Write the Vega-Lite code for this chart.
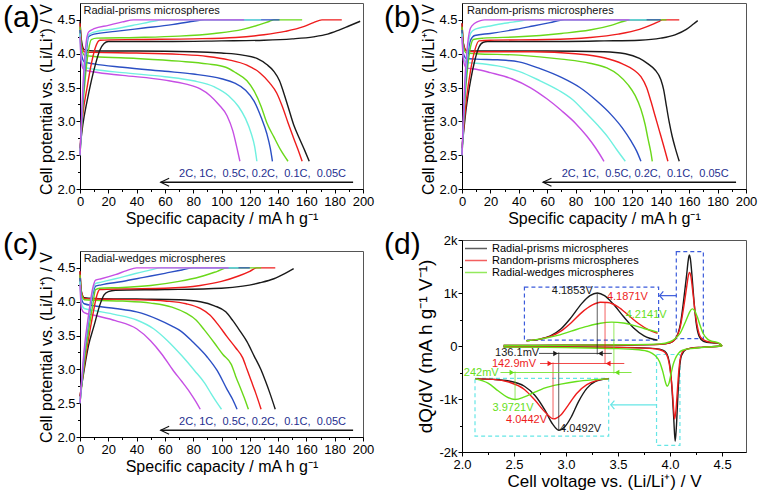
{
"$schema":"https://vega.github.io/schema/vega-lite/v6.json",
"padding":{"left":2,"top":2,"right":0,"bottom":0},
"spacing":8,
"datasets":{
"A":[
{"r":"0.05C","s":"d","x":0,"y":4.48},{"r":"0.05C","s":"d","x":1,"y":4.2},{"r":"0.05C","s":"d","x":3,"y":4.06},{"r":"0.05C","s":"d","x":10,"y":4.04},{"r":"0.05C","s":"d","x":40,"y":4.04},{"r":"0.05C","s":"d","x":80,"y":4.03},{"r":"0.05C","s":"d","x":100,"y":4.01},{"r":"0.05C","s":"d","x":115,"y":3.98},{"r":"0.05C","s":"d","x":125,"y":3.93},{"r":"0.05C","s":"d","x":132,"y":3.84},{"r":"0.05C","s":"d","x":137,"y":3.74},{"r":"0.05C","s":"d","x":141,"y":3.6},{"r":"0.05C","s":"d","x":144,"y":3.42},{"r":"0.05C","s":"d","x":147,"y":3.22},{"r":"0.05C","s":"d","x":151,"y":2.95},{"r":"0.05C","s":"d","x":155,"y":2.75},{"r":"0.05C","s":"d","x":159,"y":2.56},{"r":"0.05C","s":"d","x":162,"y":2.41},
{"r":"0.1C","s":"d","x":0,"y":4.45},{"r":"0.1C","s":"d","x":1,"y":4.15},{"r":"0.1C","s":"d","x":3,"y":4.03},{"r":"0.1C","s":"d","x":10,"y":4.02},{"r":"0.1C","s":"d","x":40,"y":4.01},{"r":"0.1C","s":"d","x":70,"y":3.99},{"r":"0.1C","s":"d","x":90,"y":3.96},{"r":"0.1C","s":"d","x":105,"y":3.91},{"r":"0.1C","s":"d","x":118,"y":3.83},{"r":"0.1C","s":"d","x":127,"y":3.72},{"r":"0.1C","s":"d","x":134,"y":3.57},{"r":"0.1C","s":"d","x":139,"y":3.42},{"r":"0.1C","s":"d","x":143,"y":3.22},{"r":"0.1C","s":"d","x":147,"y":2.98},{"r":"0.1C","s":"d","x":151,"y":2.75},{"r":"0.1C","s":"d","x":155,"y":2.53},{"r":"0.1C","s":"d","x":157,"y":2.41},
{"r":"0.2C","s":"d","x":0,"y":4.4},{"r":"0.2C","s":"d","x":1,"y":4.1},{"r":"0.2C","s":"d","x":3,"y":3.98},{"r":"0.2C","s":"d","x":10,"y":3.96},{"r":"0.2C","s":"d","x":40,"y":3.93},{"r":"0.2C","s":"d","x":70,"y":3.89},{"r":"0.2C","s":"d","x":90,"y":3.85},{"r":"0.2C","s":"d","x":103,"y":3.8},{"r":"0.2C","s":"d","x":110,"y":3.72},{"r":"0.2C","s":"d","x":118,"y":3.6},{"r":"0.2C","s":"d","x":123,"y":3.45},{"r":"0.2C","s":"d","x":128,"y":3.22},{"r":"0.2C","s":"d","x":132,"y":2.98},{"r":"0.2C","s":"d","x":137,"y":2.77},{"r":"0.2C","s":"d","x":142,"y":2.57},{"r":"0.2C","s":"d","x":147,"y":2.41},
{"r":"0.5C","s":"d","x":0,"y":4.35},{"r":"0.5C","s":"d","x":1,"y":4.0},{"r":"0.5C","s":"d","x":3,"y":3.88},{"r":"0.5C","s":"d","x":10,"y":3.85},{"r":"0.5C","s":"d","x":30,"y":3.8},{"r":"0.5C","s":"d","x":60,"y":3.74},{"r":"0.5C","s":"d","x":80,"y":3.7},{"r":"0.5C","s":"d","x":100,"y":3.63},{"r":"0.5C","s":"d","x":109,"y":3.57},{"r":"0.5C","s":"d","x":117,"y":3.46},{"r":"0.5C","s":"d","x":123,"y":3.3},{"r":"0.5C","s":"d","x":128,"y":3.06},{"r":"0.5C","s":"d","x":132,"y":2.82},{"r":"0.5C","s":"d","x":134.5,"y":2.6},{"r":"0.5C","s":"d","x":136,"y":2.41},
{"r":"1C","s":"d","x":0,"y":4.3},{"r":"1C","s":"d","x":1,"y":3.9},{"r":"1C","s":"d","x":3,"y":3.8},{"r":"1C","s":"d","x":10,"y":3.77},{"r":"1C","s":"d","x":30,"y":3.72},{"r":"1C","s":"d","x":60,"y":3.66},{"r":"1C","s":"d","x":80,"y":3.6},{"r":"1C","s":"d","x":95,"y":3.51},{"r":"1C","s":"d","x":105,"y":3.38},{"r":"1C","s":"d","x":112,"y":3.22},{"r":"1C","s":"d","x":117,"y":3.04},{"r":"1C","s":"d","x":121,"y":2.82},{"r":"1C","s":"d","x":123.5,"y":2.62},{"r":"1C","s":"d","x":125,"y":2.41},
{"r":"2C","s":"d","x":0,"y":4.25},{"r":"2C","s":"d","x":1,"y":3.85},{"r":"2C","s":"d","x":3,"y":3.76},{"r":"2C","s":"d","x":10,"y":3.73},{"r":"2C","s":"d","x":30,"y":3.68},{"r":"2C","s":"d","x":60,"y":3.61},{"r":"2C","s":"d","x":75,"y":3.55},{"r":"2C","s":"d","x":85,"y":3.48},{"r":"2C","s":"d","x":92,"y":3.38},{"r":"2C","s":"d","x":98,"y":3.25},{"r":"2C","s":"d","x":104,"y":3.08},{"r":"2C","s":"d","x":108,"y":2.86},{"r":"2C","s":"d","x":111,"y":2.6},{"r":"2C","s":"d","x":113,"y":2.41},
{"r":"0.05C","s":"c","x":0,"y":2.6},{"r":"0.05C","s":"c","x":2,"y":2.95},{"r":"0.05C","s":"c","x":5,"y":3.3},{"r":"0.05C","s":"c","x":8,"y":3.6},{"r":"0.05C","s":"c","x":11,"y":3.85},{"r":"0.05C","s":"c","x":14,"y":4.05},{"r":"0.05C","s":"c","x":17,"y":4.15},{"r":"0.05C","s":"c","x":20,"y":4.18},{"r":"0.05C","s":"c","x":60,"y":4.18},{"r":"0.05C","s":"c","x":100,"y":4.19},{"r":"0.05C","s":"c","x":130,"y":4.2},{"r":"0.05C","s":"c","x":150,"y":4.22},{"r":"0.05C","s":"c","x":165,"y":4.25},{"r":"0.05C","s":"c","x":175,"y":4.29},{"r":"0.05C","s":"c","x":183,"y":4.35},{"r":"0.05C","s":"c","x":190,"y":4.41},{"r":"0.05C","s":"c","x":198,"y":4.48},
{"r":"0.1C","s":"c","x":0,"y":2.6},{"r":"0.1C","s":"c","x":2,"y":3.1},{"r":"0.1C","s":"c","x":5,"y":3.5},{"r":"0.1C","s":"c","x":8,"y":3.85},{"r":"0.1C","s":"c","x":11,"y":4.1},{"r":"0.1C","s":"c","x":14,"y":4.2},{"r":"0.1C","s":"c","x":40,"y":4.21},{"r":"0.1C","s":"c","x":80,"y":4.22},{"r":"0.1C","s":"c","x":110,"y":4.24},{"r":"0.1C","s":"c","x":130,"y":4.28},{"r":"0.1C","s":"c","x":145,"y":4.33},{"r":"0.1C","s":"c","x":158,"y":4.4},{"r":"0.1C","s":"c","x":165,"y":4.46},{"r":"0.1C","s":"c","x":171,"y":4.5},{"r":"0.1C","s":"c","x":185,"y":4.5},
{"r":"0.2C","s":"c","x":0,"y":2.5},{"r":"0.2C","s":"c","x":2,"y":3.2},{"r":"0.2C","s":"c","x":4,"y":3.7},{"r":"0.2C","s":"c","x":6,"y":4.05},{"r":"0.2C","s":"c","x":8,"y":4.21},{"r":"0.2C","s":"c","x":12,"y":4.23},{"r":"0.2C","s":"c","x":40,"y":4.24},{"r":"0.2C","s":"c","x":70,"y":4.26},{"r":"0.2C","s":"c","x":95,"y":4.3},{"r":"0.2C","s":"c","x":115,"y":4.36},{"r":"0.2C","s":"c","x":127,"y":4.43},{"r":"0.2C","s":"c","x":134,"y":4.48},{"r":"0.2C","s":"c","x":137,"y":4.5},{"r":"0.2C","s":"c","x":157,"y":4.5},
{"r":"0.5C","s":"c","x":0,"y":2.5},{"r":"0.5C","s":"c","x":2,"y":3.3},{"r":"0.5C","s":"c","x":4,"y":3.9},{"r":"0.5C","s":"c","x":6,"y":4.25},{"r":"0.5C","s":"c","x":10,"y":4.29},{"r":"0.5C","s":"c","x":25,"y":4.33},{"r":"0.5C","s":"c","x":45,"y":4.38},{"r":"0.5C","s":"c","x":65,"y":4.43},{"r":"0.5C","s":"c","x":80,"y":4.48},{"r":"0.5C","s":"c","x":88,"y":4.5},{"r":"0.5C","s":"c","x":141,"y":4.5},
{"r":"1C","s":"c","x":0,"y":2.5},{"r":"1C","s":"c","x":2,"y":3.4},{"r":"1C","s":"c","x":4,"y":4.0},{"r":"1C","s":"c","x":6,"y":4.28},{"r":"1C","s":"c","x":10,"y":4.32},{"r":"1C","s":"c","x":25,"y":4.37},{"r":"1C","s":"c","x":40,"y":4.43},{"r":"1C","s":"c","x":52,"y":4.48},{"r":"1C","s":"c","x":58,"y":4.5},{"r":"1C","s":"c","x":128,"y":4.5},
{"r":"2C","s":"c","x":0,"y":2.5},{"r":"2C","s":"c","x":2,"y":3.5},{"r":"2C","s":"c","x":4,"y":4.1},{"r":"2C","s":"c","x":6,"y":4.32},{"r":"2C","s":"c","x":10,"y":4.37},{"r":"2C","s":"c","x":20,"y":4.42},{"r":"2C","s":"c","x":30,"y":4.47},{"r":"2C","s":"c","x":38,"y":4.5},{"r":"2C","s":"c","x":116,"y":4.5}
],
"B":[
{"r":"0.05C","s":"d","x":0,"y":4.45},{"r":"0.05C","s":"d","x":1,"y":4.15},{"r":"0.05C","s":"d","x":3,"y":4.05},{"r":"0.05C","s":"d","x":10,"y":4.04},{"r":"0.05C","s":"d","x":60,"y":4.04},{"r":"0.05C","s":"d","x":100,"y":4.03},{"r":"0.05C","s":"d","x":115,"y":4.0},{"r":"0.05C","s":"d","x":125,"y":3.93},{"r":"0.05C","s":"d","x":131,"y":3.85},{"r":"0.05C","s":"d","x":136,"y":3.76},{"r":"0.05C","s":"d","x":140,"y":3.62},{"r":"0.05C","s":"d","x":142,"y":3.47},{"r":"0.05C","s":"d","x":144,"y":3.22},{"r":"0.05C","s":"d","x":146,"y":2.98},{"r":"0.05C","s":"d","x":148,"y":2.78},{"r":"0.05C","s":"d","x":150,"y":2.62},{"r":"0.05C","s":"d","x":153,"y":2.41},
{"r":"0.1C","s":"d","x":0,"y":4.45},{"r":"0.1C","s":"d","x":1,"y":4.15},{"r":"0.1C","s":"d","x":3,"y":4.04},{"r":"0.1C","s":"d","x":10,"y":4.03},{"r":"0.1C","s":"d","x":50,"y":4.03},{"r":"0.1C","s":"d","x":80,"y":4.0},{"r":"0.1C","s":"d","x":100,"y":3.94},{"r":"0.1C","s":"d","x":113,"y":3.85},{"r":"0.1C","s":"d","x":121,"y":3.76},{"r":"0.1C","s":"d","x":126,"y":3.66},{"r":"0.1C","s":"d","x":130,"y":3.5},{"r":"0.1C","s":"d","x":133,"y":3.3},{"r":"0.1C","s":"d","x":136,"y":3.08},{"r":"0.1C","s":"d","x":139,"y":2.86},{"r":"0.1C","s":"d","x":142,"y":2.64},{"r":"0.1C","s":"d","x":145,"y":2.41},
{"r":"0.2C","s":"d","x":0,"y":4.4},{"r":"0.2C","s":"d","x":1,"y":4.1},{"r":"0.2C","s":"d","x":3,"y":4.01},{"r":"0.2C","s":"d","x":10,"y":4.0},{"r":"0.2C","s":"d","x":40,"y":3.98},{"r":"0.2C","s":"d","x":70,"y":3.92},{"r":"0.2C","s":"d","x":90,"y":3.86},{"r":"0.2C","s":"d","x":102,"y":3.79},{"r":"0.2C","s":"d","x":110,"y":3.69},{"r":"0.2C","s":"d","x":117,"y":3.54},{"r":"0.2C","s":"d","x":122,"y":3.38},{"r":"0.2C","s":"d","x":126,"y":3.18},{"r":"0.2C","s":"d","x":129,"y":2.95},{"r":"0.2C","s":"d","x":131,"y":2.74},{"r":"0.2C","s":"d","x":133,"y":2.54},{"r":"0.2C","s":"d","x":134,"y":2.41},
{"r":"0.5C","s":"d","x":0,"y":4.35},{"r":"0.5C","s":"d","x":1,"y":4.0},{"r":"0.5C","s":"d","x":3,"y":3.93},{"r":"0.5C","s":"d","x":10,"y":3.92},{"r":"0.5C","s":"d","x":25,"y":3.91},{"r":"0.5C","s":"d","x":40,"y":3.88},{"r":"0.5C","s":"d","x":55,"y":3.78},{"r":"0.5C","s":"d","x":70,"y":3.65},{"r":"0.5C","s":"d","x":83,"y":3.5},{"r":"0.5C","s":"d","x":95,"y":3.3},{"r":"0.5C","s":"d","x":105,"y":3.1},{"r":"0.5C","s":"d","x":113,"y":2.9},{"r":"0.5C","s":"d","x":119,"y":2.71},{"r":"0.5C","s":"d","x":123,"y":2.56},{"r":"0.5C","s":"d","x":126,"y":2.41},
{"r":"1C","s":"d","x":0,"y":4.3},{"r":"1C","s":"d","x":1,"y":3.95},{"r":"1C","s":"d","x":3,"y":3.87},{"r":"1C","s":"d","x":10,"y":3.86},{"r":"1C","s":"d","x":25,"y":3.82},{"r":"1C","s":"d","x":40,"y":3.74},{"r":"1C","s":"d","x":55,"y":3.6},{"r":"1C","s":"d","x":68,"y":3.46},{"r":"1C","s":"d","x":78,"y":3.32},{"r":"1C","s":"d","x":87,"y":3.13},{"r":"1C","s":"d","x":97,"y":2.91},{"r":"1C","s":"d","x":103,"y":2.76},{"r":"1C","s":"d","x":109,"y":2.58},{"r":"1C","s":"d","x":115,"y":2.41},
{"r":"2C","s":"d","x":0,"y":4.25},{"r":"2C","s":"d","x":1,"y":3.9},{"r":"2C","s":"d","x":3,"y":3.79},{"r":"2C","s":"d","x":10,"y":3.77},{"r":"2C","s":"d","x":20,"y":3.72},{"r":"2C","s":"d","x":35,"y":3.63},{"r":"2C","s":"d","x":48,"y":3.5},{"r":"2C","s":"d","x":60,"y":3.33},{"r":"2C","s":"d","x":70,"y":3.16},{"r":"2C","s":"d","x":80,"y":2.97},{"r":"2C","s":"d","x":88,"y":2.78},{"r":"2C","s":"d","x":94,"y":2.61},{"r":"2C","s":"d","x":100,"y":2.41},
{"r":"0.05C","s":"c","x":0,"y":2.6},{"r":"0.05C","s":"c","x":3,"y":3.2},{"r":"0.05C","s":"c","x":6,"y":3.6},{"r":"0.05C","s":"c","x":9,"y":3.9},{"r":"0.05C","s":"c","x":12,"y":4.1},{"r":"0.05C","s":"c","x":15,"y":4.17},{"r":"0.05C","s":"c","x":18,"y":4.18},{"r":"0.05C","s":"c","x":60,"y":4.18},{"r":"0.05C","s":"c","x":100,"y":4.19},{"r":"0.05C","s":"c","x":125,"y":4.2},{"r":"0.05C","s":"c","x":140,"y":4.23},{"r":"0.05C","s":"c","x":150,"y":4.28},{"r":"0.05C","s":"c","x":158,"y":4.36},{"r":"0.05C","s":"c","x":163,"y":4.44},{"r":"0.05C","s":"c","x":166,"y":4.49},
{"r":"0.1C","s":"c","x":0,"y":2.6},{"r":"0.1C","s":"c","x":3,"y":3.3},{"r":"0.1C","s":"c","x":6,"y":3.75},{"r":"0.1C","s":"c","x":9,"y":4.05},{"r":"0.1C","s":"c","x":12,"y":4.19},{"r":"0.1C","s":"c","x":20,"y":4.2},{"r":"0.1C","s":"c","x":60,"y":4.21},{"r":"0.1C","s":"c","x":90,"y":4.24},{"r":"0.1C","s":"c","x":110,"y":4.29},{"r":"0.1C","s":"c","x":125,"y":4.36},{"r":"0.1C","s":"c","x":135,"y":4.44},{"r":"0.1C","s":"c","x":139,"y":4.48},{"r":"0.1C","s":"c","x":141,"y":4.5},{"r":"0.1C","s":"c","x":153,"y":4.5},
{"r":"0.2C","s":"c","x":0,"y":2.5},{"r":"0.2C","s":"c","x":2,"y":3.3},{"r":"0.2C","s":"c","x":4,"y":3.8},{"r":"0.2C","s":"c","x":6,"y":4.1},{"r":"0.2C","s":"c","x":8,"y":4.21},{"r":"0.2C","s":"c","x":15,"y":4.23},{"r":"0.2C","s":"c","x":40,"y":4.25},{"r":"0.2C","s":"c","x":70,"y":4.3},{"r":"0.2C","s":"c","x":90,"y":4.35},{"r":"0.2C","s":"c","x":105,"y":4.42},{"r":"0.2C","s":"c","x":114,"y":4.48},{"r":"0.2C","s":"c","x":118,"y":4.5},{"r":"0.2C","s":"c","x":144,"y":4.5},
{"r":"0.5C","s":"c","x":0,"y":2.5},{"r":"0.5C","s":"c","x":2,"y":3.4},{"r":"0.5C","s":"c","x":4,"y":3.95},{"r":"0.5C","s":"c","x":6,"y":4.2},{"r":"0.5C","s":"c","x":9,"y":4.27},{"r":"0.5C","s":"c","x":20,"y":4.3},{"r":"0.5C","s":"c","x":35,"y":4.35},{"r":"0.5C","s":"c","x":50,"y":4.41},{"r":"0.5C","s":"c","x":62,"y":4.46},{"r":"0.5C","s":"c","x":72,"y":4.5},{"r":"0.5C","s":"c","x":140,"y":4.5},
{"r":"1C","s":"c","x":0,"y":2.5},{"r":"1C","s":"c","x":2,"y":3.5},{"r":"1C","s":"c","x":4,"y":4.05},{"r":"1C","s":"c","x":6,"y":4.3},{"r":"1C","s":"c","x":9,"y":4.36},{"r":"1C","s":"c","x":20,"y":4.41},{"r":"1C","s":"c","x":30,"y":4.45},{"r":"1C","s":"c","x":40,"y":4.48},{"r":"1C","s":"c","x":46,"y":4.5},{"r":"1C","s":"c","x":130,"y":4.5},
{"r":"2C","s":"c","x":0,"y":2.5},{"r":"2C","s":"c","x":2,"y":3.6},{"r":"2C","s":"c","x":4,"y":4.15},{"r":"2C","s":"c","x":6,"y":4.38},{"r":"2C","s":"c","x":9,"y":4.45},{"r":"2C","s":"c","x":13,"y":4.49},{"r":"2C","s":"c","x":16,"y":4.5},{"r":"2C","s":"c","x":118,"y":4.5}
],
"C":[
{"r":"0.05C","s":"d","x":0,"y":4.45},{"r":"0.05C","s":"d","x":1,"y":4.15},{"r":"0.05C","s":"d","x":3,"y":4.06},{"r":"0.05C","s":"d","x":10,"y":4.05},{"r":"0.05C","s":"d","x":40,"y":4.04},{"r":"0.05C","s":"d","x":70,"y":4.03},{"r":"0.05C","s":"d","x":85,"y":4.0},{"r":"0.05C","s":"d","x":95,"y":3.94},{"r":"0.05C","s":"d","x":103,"y":3.85},{"r":"0.05C","s":"d","x":108,"y":3.72},{"r":"0.05C","s":"d","x":113,"y":3.57},{"r":"0.05C","s":"d","x":118,"y":3.41},{"r":"0.05C","s":"d","x":123,"y":3.2},{"r":"0.05C","s":"d","x":128,"y":2.99},{"r":"0.05C","s":"d","x":131,"y":2.83},{"r":"0.05C","s":"d","x":134,"y":2.66},{"r":"0.05C","s":"d","x":138,"y":2.41},
{"r":"0.1C","s":"d","x":0,"y":4.45},{"r":"0.1C","s":"d","x":1,"y":4.15},{"r":"0.1C","s":"d","x":3,"y":4.05},{"r":"0.1C","s":"d","x":10,"y":4.04},{"r":"0.1C","s":"d","x":40,"y":4.03},{"r":"0.1C","s":"d","x":60,"y":4.01},{"r":"0.1C","s":"d","x":75,"y":3.97},{"r":"0.1C","s":"d","x":85,"y":3.9},{"r":"0.1C","s":"d","x":92,"y":3.8},{"r":"0.1C","s":"d","x":98,"y":3.65},{"r":"0.1C","s":"d","x":104,"y":3.48},{"r":"0.1C","s":"d","x":110,"y":3.32},{"r":"0.1C","s":"d","x":115,"y":3.17},{"r":"0.1C","s":"d","x":118,"y":3.0},{"r":"0.1C","s":"d","x":121,"y":2.83},{"r":"0.1C","s":"d","x":124,"y":2.66},{"r":"0.1C","s":"d","x":128,"y":2.41},
{"r":"0.2C","s":"d","x":0,"y":4.4},{"r":"0.2C","s":"d","x":1,"y":4.12},{"r":"0.2C","s":"d","x":3,"y":4.03},{"r":"0.2C","s":"d","x":10,"y":4.02},{"r":"0.2C","s":"d","x":30,"y":4.01},{"r":"0.2C","s":"d","x":50,"y":3.98},{"r":"0.2C","s":"d","x":65,"y":3.92},{"r":"0.2C","s":"d","x":75,"y":3.83},{"r":"0.2C","s":"d","x":82,"y":3.73},{"r":"0.2C","s":"d","x":88,"y":3.58},{"r":"0.2C","s":"d","x":95,"y":3.39},{"r":"0.2C","s":"d","x":101,"y":3.22},{"r":"0.2C","s":"d","x":107,"y":3.07},{"r":"0.2C","s":"d","x":110,"y":2.9},{"r":"0.2C","s":"d","x":114,"y":2.69},{"r":"0.2C","s":"d","x":117,"y":2.53},{"r":"0.2C","s":"d","x":119,"y":2.41},
{"r":"0.5C","s":"d","x":0,"y":4.35},{"r":"0.5C","s":"d","x":1,"y":4.05},{"r":"0.5C","s":"d","x":3,"y":3.97},{"r":"0.5C","s":"d","x":10,"y":3.94},{"r":"0.5C","s":"d","x":25,"y":3.9},{"r":"0.5C","s":"d","x":40,"y":3.85},{"r":"0.5C","s":"d","x":55,"y":3.74},{"r":"0.5C","s":"d","x":65,"y":3.64},{"r":"0.5C","s":"d","x":71,"y":3.57},{"r":"0.5C","s":"d","x":80,"y":3.4},{"r":"0.5C","s":"d","x":90,"y":3.18},{"r":"0.5C","s":"d","x":97,"y":2.98},{"r":"0.5C","s":"d","x":104,"y":2.7},{"r":"0.5C","s":"d","x":108,"y":2.55},{"r":"0.5C","s":"d","x":111,"y":2.41},
{"r":"1C","s":"d","x":0,"y":4.3},{"r":"1C","s":"d","x":1,"y":3.97},{"r":"1C","s":"d","x":3,"y":3.9},{"r":"1C","s":"d","x":10,"y":3.87},{"r":"1C","s":"d","x":25,"y":3.81},{"r":"1C","s":"d","x":40,"y":3.73},{"r":"1C","s":"d","x":52,"y":3.6},{"r":"1C","s":"d","x":62,"y":3.42},{"r":"1C","s":"d","x":72,"y":3.2},{"r":"1C","s":"d","x":81,"y":2.98},{"r":"1C","s":"d","x":88,"y":2.8},{"r":"1C","s":"d","x":93,"y":2.63},{"r":"1C","s":"d","x":97,"y":2.5},{"r":"1C","s":"d","x":100,"y":2.41},
{"r":"2C","s":"d","x":0,"y":4.25},{"r":"2C","s":"d","x":1,"y":3.9},{"r":"2C","s":"d","x":3,"y":3.84},{"r":"2C","s":"d","x":10,"y":3.8},{"r":"2C","s":"d","x":25,"y":3.72},{"r":"2C","s":"d","x":40,"y":3.6},{"r":"2C","s":"d","x":50,"y":3.42},{"r":"2C","s":"d","x":58,"y":3.22},{"r":"2C","s":"d","x":66,"y":2.98},{"r":"2C","s":"d","x":72,"y":2.82},{"r":"2C","s":"d","x":78,"y":2.65},{"r":"2C","s":"d","x":82,"y":2.52},{"r":"2C","s":"d","x":85,"y":2.41},
{"r":"0.05C","s":"c","x":0,"y":2.6},{"r":"0.05C","s":"c","x":3,"y":3.0},{"r":"0.05C","s":"c","x":6,"y":3.35},{"r":"0.05C","s":"c","x":10,"y":3.65},{"r":"0.05C","s":"c","x":14,"y":3.95},{"r":"0.05C","s":"c","x":17,"y":4.1},{"r":"0.05C","s":"c","x":20,"y":4.15},{"r":"0.05C","s":"c","x":25,"y":4.17},{"r":"0.05C","s":"c","x":60,"y":4.18},{"r":"0.05C","s":"c","x":100,"y":4.2},{"r":"0.05C","s":"c","x":115,"y":4.23},{"r":"0.05C","s":"c","x":127,"y":4.28},{"r":"0.05C","s":"c","x":137,"y":4.34},{"r":"0.05C","s":"c","x":145,"y":4.42},{"r":"0.05C","s":"c","x":151,"y":4.49},
{"r":"0.1C","s":"c","x":0,"y":2.6},{"r":"0.1C","s":"c","x":3,"y":3.05},{"r":"0.1C","s":"c","x":6,"y":3.45},{"r":"0.1C","s":"c","x":9,"y":3.8},{"r":"0.1C","s":"c","x":12,"y":4.1},{"r":"0.1C","s":"c","x":14,"y":4.18},{"r":"0.1C","s":"c","x":30,"y":4.19},{"r":"0.1C","s":"c","x":60,"y":4.2},{"r":"0.1C","s":"c","x":85,"y":4.24},{"r":"0.1C","s":"c","x":100,"y":4.3},{"r":"0.1C","s":"c","x":112,"y":4.38},{"r":"0.1C","s":"c","x":120,"y":4.45},{"r":"0.1C","s":"c","x":125,"y":4.5},{"r":"0.1C","s":"c","x":138,"y":4.5},
{"r":"0.2C","s":"c","x":0,"y":2.5},{"r":"0.2C","s":"c","x":3,"y":3.1},{"r":"0.2C","s":"c","x":6,"y":3.55},{"r":"0.2C","s":"c","x":9,"y":3.95},{"r":"0.2C","s":"c","x":11,"y":4.18},{"r":"0.2C","s":"c","x":14,"y":4.2},{"r":"0.2C","s":"c","x":30,"y":4.21},{"r":"0.2C","s":"c","x":50,"y":4.24},{"r":"0.2C","s":"c","x":70,"y":4.3},{"r":"0.2C","s":"c","x":85,"y":4.37},{"r":"0.2C","s":"c","x":97,"y":4.45},{"r":"0.2C","s":"c","x":104,"y":4.5},{"r":"0.2C","s":"c","x":128,"y":4.5},
{"r":"0.5C","s":"c","x":0,"y":2.5},{"r":"0.5C","s":"c","x":3,"y":3.2},{"r":"0.5C","s":"c","x":6,"y":3.7},{"r":"0.5C","s":"c","x":9,"y":4.1},{"r":"0.5C","s":"c","x":11,"y":4.23},{"r":"0.5C","s":"c","x":15,"y":4.25},{"r":"0.5C","s":"c","x":30,"y":4.3},{"r":"0.5C","s":"c","x":45,"y":4.36},{"r":"0.5C","s":"c","x":60,"y":4.42},{"r":"0.5C","s":"c","x":72,"y":4.47},{"r":"0.5C","s":"c","x":80,"y":4.5},{"r":"0.5C","s":"c","x":120,"y":4.5},
{"r":"1C","s":"c","x":0,"y":2.5},{"r":"1C","s":"c","x":3,"y":3.25},{"r":"1C","s":"c","x":6,"y":3.75},{"r":"1C","s":"c","x":9,"y":4.15},{"r":"1C","s":"c","x":11,"y":4.27},{"r":"1C","s":"c","x":15,"y":4.29},{"r":"1C","s":"c","x":25,"y":4.34},{"r":"1C","s":"c","x":38,"y":4.41},{"r":"1C","s":"c","x":50,"y":4.47},{"r":"1C","s":"c","x":57,"y":4.5},{"r":"1C","s":"c","x":112,"y":4.5},
{"r":"2C","s":"c","x":0,"y":2.5},{"r":"2C","s":"c","x":3,"y":3.3},{"r":"2C","s":"c","x":6,"y":3.8},{"r":"2C","s":"c","x":9,"y":4.2},{"r":"2C","s":"c","x":11,"y":4.32},{"r":"2C","s":"c","x":15,"y":4.34},{"r":"2C","s":"c","x":25,"y":4.4},{"r":"2C","s":"c","x":33,"y":4.46},{"r":"2C","s":"c","x":40,"y":4.5},{"r":"2C","s":"c","x":105,"y":4.5}
],
"D":[
{"k":"RP","s":"mc","x":2.4,"y":10},{"k":"RP","s":"mc","x":3.0,"y":15},{"k":"RP","s":"mc","x":3.6,"y":20},{"k":"RP","s":"mc","x":3.9,"y":30},{"k":"RP","s":"mc","x":4.0,"y":60},{"k":"RP","s":"mc","x":4.05,"y":130},{"k":"RP","s":"mc","x":4.1,"y":420},{"k":"RP","s":"mc","x":4.13,"y":850},{"k":"RP","s":"mc","x":4.16,"y":1350},{"k":"RP","s":"mc","x":4.175,"y":1620},{"k":"RP","s":"mc","x":4.185,"y":1720},{"k":"RP","s":"mc","x":4.195,"y":1650},{"k":"RP","s":"mc","x":4.21,"y":1350},{"k":"RP","s":"mc","x":4.23,"y":850},{"k":"RP","s":"mc","x":4.25,"y":450},{"k":"RP","s":"mc","x":4.28,"y":180},{"k":"RP","s":"mc","x":4.32,"y":90},{"k":"RP","s":"mc","x":4.4,"y":60},{"k":"RP","s":"mc","x":4.45,"y":55},{"k":"RP","s":"mc","x":4.48,"y":35},{"k":"RP","s":"mc","x":4.5,"y":0},
{"k":"RD","s":"mc","x":2.4,"y":10},{"k":"RD","s":"mc","x":3.0,"y":15},{"k":"RD","s":"mc","x":3.6,"y":20},{"k":"RD","s":"mc","x":3.9,"y":30},{"k":"RD","s":"mc","x":4.0,"y":60},{"k":"RD","s":"mc","x":4.05,"y":130},{"k":"RD","s":"mc","x":4.1,"y":380},{"k":"RD","s":"mc","x":4.13,"y":720},{"k":"RD","s":"mc","x":4.16,"y":1120},{"k":"RD","s":"mc","x":4.175,"y":1320},{"k":"RD","s":"mc","x":4.187,"y":1390},{"k":"RD","s":"mc","x":4.2,"y":1320},{"k":"RD","s":"mc","x":4.22,"y":1000},{"k":"RD","s":"mc","x":4.24,"y":650},{"k":"RD","s":"mc","x":4.27,"y":300},{"k":"RD","s":"mc","x":4.3,"y":150},{"k":"RD","s":"mc","x":4.35,"y":90},{"k":"RD","s":"mc","x":4.4,"y":70},{"k":"RD","s":"mc","x":4.45,"y":60},{"k":"RD","s":"mc","x":4.48,"y":40},{"k":"RD","s":"mc","x":4.5,"y":0},
{"k":"RW","s":"mc","x":2.4,"y":10},{"k":"RW","s":"mc","x":3.0,"y":15},{"k":"RW","s":"mc","x":3.6,"y":25},{"k":"RW","s":"mc","x":3.9,"y":40},{"k":"RW","s":"mc","x":4.0,"y":80},{"k":"RW","s":"mc","x":4.05,"y":140},{"k":"RW","s":"mc","x":4.1,"y":250},{"k":"RW","s":"mc","x":4.14,"y":420},{"k":"RW","s":"mc","x":4.17,"y":560},{"k":"RW","s":"mc","x":4.19,"y":650},{"k":"RW","s":"mc","x":4.214,"y":700},{"k":"RW","s":"mc","x":4.235,"y":670},{"k":"RW","s":"mc","x":4.26,"y":560},{"k":"RW","s":"mc","x":4.29,"y":380},{"k":"RW","s":"mc","x":4.32,"y":230},{"k":"RW","s":"mc","x":4.36,"y":130},{"k":"RW","s":"mc","x":4.4,"y":90},{"k":"RW","s":"mc","x":4.45,"y":70},{"k":"RW","s":"mc","x":4.48,"y":40},{"k":"RW","s":"mc","x":4.5,"y":0},
{"k":"RP","s":"md","x":2.4,"y":-15},{"k":"RP","s":"md","x":3.0,"y":-20},{"k":"RP","s":"md","x":3.5,"y":-25},{"k":"RP","s":"md","x":3.8,"y":-40},{"k":"RP","s":"md","x":3.9,"y":-60},{"k":"RP","s":"md","x":3.95,"y":-100},{"k":"RP","s":"md","x":3.98,"y":-200},{"k":"RP","s":"md","x":4.0,"y":-400},{"k":"RP","s":"md","x":4.02,"y":-850},{"k":"RP","s":"md","x":4.035,"y":-1350},{"k":"RP","s":"md","x":4.049,"y":-1800},{"k":"RP","s":"md","x":4.06,"y":-1550},{"k":"RP","s":"md","x":4.075,"y":-950},{"k":"RP","s":"md","x":4.09,"y":-450},{"k":"RP","s":"md","x":4.11,"y":-180},{"k":"RP","s":"md","x":4.15,"y":-70},{"k":"RP","s":"md","x":4.2,"y":-40},{"k":"RP","s":"md","x":4.3,"y":-25},{"k":"RP","s":"md","x":4.4,"y":-15},{"k":"RP","s":"md","x":4.5,"y":0},
{"k":"RD","s":"md","x":2.4,"y":-15},{"k":"RD","s":"md","x":3.0,"y":-20},{"k":"RD","s":"md","x":3.5,"y":-25},{"k":"RD","s":"md","x":3.8,"y":-45},{"k":"RD","s":"md","x":3.9,"y":-70},{"k":"RD","s":"md","x":3.95,"y":-120},{"k":"RD","s":"md","x":3.98,"y":-230},{"k":"RD","s":"md","x":4.0,"y":-430},{"k":"RD","s":"md","x":4.02,"y":-800},{"k":"RD","s":"md","x":4.033,"y":-1150},{"k":"RD","s":"md","x":4.044,"y":-1380},{"k":"RD","s":"md","x":4.055,"y":-1250},{"k":"RD","s":"md","x":4.07,"y":-850},{"k":"RD","s":"md","x":4.085,"y":-450},{"k":"RD","s":"md","x":4.1,"y":-220},{"k":"RD","s":"md","x":4.13,"y":-90},{"k":"RD","s":"md","x":4.2,"y":-40},{"k":"RD","s":"md","x":4.3,"y":-25},{"k":"RD","s":"md","x":4.4,"y":-15},{"k":"RD","s":"md","x":4.5,"y":0},
{"k":"RW","s":"md","x":2.4,"y":-20},{"k":"RW","s":"md","x":3.0,"y":-30},{"k":"RW","s":"md","x":3.5,"y":-50},{"k":"RW","s":"md","x":3.7,"y":-70},{"k":"RW","s":"md","x":3.8,"y":-110},{"k":"RW","s":"md","x":3.85,"y":-170},{"k":"RW","s":"md","x":3.9,"y":-300},{"k":"RW","s":"md","x":3.93,"y":-480},{"k":"RW","s":"md","x":3.955,"y":-680},{"k":"RW","s":"md","x":3.972,"y":-760},{"k":"RW","s":"md","x":3.99,"y":-700},{"k":"RW","s":"md","x":4.01,"y":-520},{"k":"RW","s":"md","x":4.03,"y":-350},{"k":"RW","s":"md","x":4.05,"y":-240},{"k":"RW","s":"md","x":4.08,"y":-140},{"k":"RW","s":"md","x":4.12,"y":-80},{"k":"RW","s":"md","x":4.2,"y":-50},{"k":"RW","s":"md","x":4.3,"y":-30},{"k":"RW","s":"md","x":4.4,"y":-15},{"k":"RW","s":"md","x":4.5,"y":0},
{"k":"RP","s":"ic","x":2.62,"y":100},{"k":"RP","s":"ic","x":2.75,"y":130},{"k":"RP","s":"ic","x":2.85,"y":190},{"k":"RP","s":"ic","x":2.95,"y":320},{"k":"RP","s":"ic","x":3.05,"y":540},{"k":"RP","s":"ic","x":3.15,"y":800},{"k":"RP","s":"ic","x":3.23,"y":950},{"k":"RP","s":"ic","x":3.3,"y":1000},{"k":"RP","s":"ic","x":3.37,"y":950},{"k":"RP","s":"ic","x":3.45,"y":800},{"k":"RP","s":"ic","x":3.55,"y":560},{"k":"RP","s":"ic","x":3.65,"y":340},{"k":"RP","s":"ic","x":3.75,"y":190},{"k":"RP","s":"ic","x":3.88,"y":110},
{"k":"RD","s":"ic","x":2.62,"y":100},{"k":"RD","s":"ic","x":2.75,"y":130},{"k":"RD","s":"ic","x":2.85,"y":180},{"k":"RD","s":"ic","x":2.95,"y":280},{"k":"RD","s":"ic","x":3.05,"y":440},{"k":"RD","s":"ic","x":3.15,"y":630},{"k":"RD","s":"ic","x":3.25,"y":770},{"k":"RD","s":"ic","x":3.33,"y":825},{"k":"RD","s":"ic","x":3.4,"y":820},{"k":"RD","s":"ic","x":3.5,"y":740},{"k":"RD","s":"ic","x":3.6,"y":580},{"k":"RD","s":"ic","x":3.7,"y":420},{"k":"RD","s":"ic","x":3.8,"y":300},{"k":"RD","s":"ic","x":3.88,"y":240},
{"k":"RW","s":"ic","x":2.62,"y":100},{"k":"RW","s":"ic","x":2.75,"y":130},{"k":"RW","s":"ic","x":2.9,"y":190},{"k":"RW","s":"ic","x":3.05,"y":280},{"k":"RW","s":"ic","x":3.2,"y":370},{"k":"RW","s":"ic","x":3.33,"y":430},{"k":"RW","s":"ic","x":3.44,"y":450},{"k":"RW","s":"ic","x":3.55,"y":435},{"k":"RW","s":"ic","x":3.65,"y":390},{"k":"RW","s":"ic","x":3.75,"y":330},{"k":"RW","s":"ic","x":3.88,"y":260},
{"k":"RP","s":"id","x":2.13,"y":-620},{"k":"RP","s":"id","x":2.3,"y":-630},{"k":"RP","s":"id","x":2.45,"y":-660},{"k":"RP","s":"id","x":2.6,"y":-760},{"k":"RP","s":"id","x":2.7,"y":-930},{"k":"RP","s":"id","x":2.8,"y":-1220},{"k":"RP","s":"id","x":2.87,"y":-1470},{"k":"RP","s":"id","x":2.93,"y":-1590},{"k":"RP","s":"id","x":2.99,"y":-1520},{"k":"RP","s":"id","x":3.05,"y":-1340},{"k":"RP","s":"id","x":3.12,"y":-1050},{"k":"RP","s":"id","x":3.2,"y":-800},{"k":"RP","s":"id","x":3.28,"y":-670},{"k":"RP","s":"id","x":3.41,"y":-615},
{"k":"RD","s":"id","x":2.13,"y":-620},{"k":"RD","s":"id","x":2.3,"y":-630},{"k":"RD","s":"id","x":2.45,"y":-680},{"k":"RD","s":"id","x":2.6,"y":-820},{"k":"RD","s":"id","x":2.7,"y":-1020},{"k":"RD","s":"id","x":2.8,"y":-1250},{"k":"RD","s":"id","x":2.88,"y":-1375},{"k":"RD","s":"id","x":2.95,"y":-1300},{"k":"RD","s":"id","x":3.02,"y":-1120},{"k":"RD","s":"id","x":3.1,"y":-900},{"k":"RD","s":"id","x":3.2,"y":-730},{"k":"RD","s":"id","x":3.3,"y":-650},{"k":"RD","s":"id","x":3.41,"y":-615},
{"k":"RW","s":"id","x":2.13,"y":-620},{"k":"RW","s":"id","x":2.25,"y":-700},{"k":"RW","s":"id","x":2.35,"y":-850},{"k":"RW","s":"id","x":2.43,"y":-960},{"k":"RW","s":"id","x":2.51,"y":-1010},{"k":"RW","s":"id","x":2.6,"y":-960},{"k":"RW","s":"id","x":2.7,"y":-870},{"k":"RW","s":"id","x":2.8,"y":-790},{"k":"RW","s":"id","x":2.95,"y":-720},{"k":"RW","s":"id","x":3.1,"y":-670},{"k":"RW","s":"id","x":3.25,"y":-640},{"k":"RW","s":"id","x":3.41,"y":-620}
],
"arrowline":[{"x":57,"x2":193,"y":2.1}],
"chev":[{"i":0,"x":63,"y":2.16},{"i":1,"x":57,"y":2.1},{"i":2,"x":63,"y":2.04}],
"rates":[{"t":"2C, 1C,\u00a0 0.5C, 0.2C,\u00a0 0.1C,\u00a0 0.05C","x":129,"y":2.22}]
},
"resolve":{"scale":{"color":"independent","x":"independent","y":"independent"}},
"hconcat":[
{"spacing":2,"resolve":{"scale":{"color":"independent","x":"independent","y":"independent"}},
"vconcat":[
{"width":283,"height":186,"resolve":{"axis":{"x":"independent","y":"independent"}},
"layer":[
{"data":{"name":"A"},"mark":{"type":"line","strokeWidth":1.4,"interpolate":"monotone"},
"encoding":{"x":{"field":"x","type":"quantitative","scale":{"domain":[0,200],"nice":false},"axis":{"title":"Specific capacity / mA h g⁻¹","values":[0,20,40,60,80,100,120,140,160,180,200],"labelFlush":false,"labelOverlap":false}},
"y":{"field":"y","type":"quantitative","scale":{"domain":[2,4.75],"nice":false,"zero":false},"axis":{"title":"Cell potential vs. (Li/Li⁺) / V","titleY":96,"values":[2,2.5,3,3.5,4,4.5],"format":".1f","labelFlush":false,"labelOverlap":false}},
"color":{"field":"r","type":"nominal","scale":{"domain":["0.05C","0.1C","0.2C","0.5C","1C","2C"],"range":["#1a1a1a","#ee1c1c","#6ad81a","#2b4fc4","#6ff0e0","#c64fe4"]},"legend":null},
"detail":{"field":"s"}}},
{"data":{"name":"arrowline"},"mark":{"type":"rule","color":"#111","strokeWidth":1.3},"encoding":{"x":{"field":"x","type":"quantitative","axis":{"orient":"bottom","values":[10,30,50,70,90,110,130,150,170,190],"labels":false,"title":null,"domain":false,"tickSize":2.5}},"x2":{"field":"x2"},"y":{"field":"y","type":"quantitative","axis":{"orient":"left","values":[2.25,2.75,3.25,3.75,4.25],"labels":false,"title":null,"domain":false,"tickSize":2.5}}}},
{"data":{"name":"chev"},"mark":{"type":"line","color":"#111","strokeWidth":1.1},"encoding":{"x":{"field":"x","type":"quantitative","axis":null},"y":{"field":"y","type":"quantitative","axis":null},"order":{"field":"i"}}},
{"data":{"name":"rates"},"mark":{"type":"text","color":"#1f2f8f","fontSize":11,"align":"center","baseline":"middle"},"encoding":{"x":{"field":"x","type":"quantitative","axis":null},"y":{"field":"y","type":"quantitative","axis":null},"text":{"field":"t"}}},
{"data":{"values":[{"t":"Radial-prisms microspheres","x":2.5,"y":4.63}]},"mark":{"type":"text","color":"#111","fontSize":11,"align":"left","baseline":"middle"},"encoding":{"x":{"field":"x","type":"quantitative","axis":null},"y":{"field":"y","type":"quantitative","axis":null},"text":{"field":"t"}}},
{"data":{"values":[{"t":"(a)","x":-54.4,"y":4.75}]},"mark":{"type":"text","color":"#000","fontSize":30,"align":"left","baseline":"top"},"encoding":{"x":{"field":"x","type":"quantitative","axis":null},"y":{"field":"y","type":"quantitative","axis":null},"text":{"field":"t"}}}
]},
{"width":283,"height":186,"resolve":{"axis":{"x":"independent","y":"independent"}},
"layer":[
{"data":{"name":"C"},"mark":{"type":"line","strokeWidth":1.4,"interpolate":"monotone"},
"encoding":{"x":{"field":"x","type":"quantitative","scale":{"domain":[0,200],"nice":false},"axis":{"title":"Specific capacity / mA h g⁻¹","values":[0,20,40,60,80,100,120,140,160,180,200],"labelFlush":false,"labelOverlap":false}},
"y":{"field":"y","type":"quantitative","scale":{"domain":[2,4.75],"nice":false,"zero":false},"axis":{"title":"Cell potential vs. (Li/Li⁺) / V","titleY":96,"values":[2,2.5,3,3.5,4,4.5],"format":".1f","labelFlush":false,"labelOverlap":false}},
"color":{"field":"r","type":"nominal","scale":{"domain":["0.05C","0.1C","0.2C","0.5C","1C","2C"],"range":["#1a1a1a","#ee1c1c","#6ad81a","#2b4fc4","#6ff0e0","#c64fe4"]},"legend":null},
"detail":{"field":"s"}}},
{"data":{"name":"arrowline"},"mark":{"type":"rule","color":"#111","strokeWidth":1.3},"encoding":{"x":{"field":"x","type":"quantitative","axis":{"orient":"bottom","values":[10,30,50,70,90,110,130,150,170,190],"labels":false,"title":null,"domain":false,"tickSize":2.5}},"x2":{"field":"x2"},"y":{"field":"y","type":"quantitative","axis":{"orient":"left","values":[2.25,2.75,3.25,3.75,4.25],"labels":false,"title":null,"domain":false,"tickSize":2.5}}}},
{"data":{"name":"chev"},"mark":{"type":"line","color":"#111","strokeWidth":1.1},"encoding":{"x":{"field":"x","type":"quantitative","axis":null},"y":{"field":"y","type":"quantitative","axis":null},"order":{"field":"i"}}},
{"data":{"name":"rates"},"mark":{"type":"text","color":"#1f2f8f","fontSize":11,"align":"center","baseline":"middle"},"encoding":{"x":{"field":"x","type":"quantitative","axis":null},"y":{"field":"y","type":"quantitative","axis":null},"text":{"field":"t"}}},
{"data":{"values":[{"t":"Radial-wedges microspheres","x":2.6,"y":4.63}]},"mark":{"type":"text","color":"#111","fontSize":11,"align":"left","baseline":"middle"},"encoding":{"x":{"field":"x","type":"quantitative","axis":null},"y":{"field":"y","type":"quantitative","axis":null},"text":{"field":"t"}}},
{"data":{"values":[{"t":"(c)","x":-54.4,"y":5.06}]},"mark":{"type":"text","color":"#000","fontSize":30,"align":"left","baseline":"top"},"encoding":{"x":{"field":"x","type":"quantitative","axis":null},"y":{"field":"y","type":"quantitative","axis":null},"text":{"field":"t"}}}
]}
]},
{"spacing":2,"resolve":{"scale":{"color":"independent","x":"independent","y":"independent"}},
"vconcat":[
{"width":284,"height":186,"resolve":{"axis":{"x":"independent","y":"independent"}},
"layer":[
{"data":{"name":"B"},"mark":{"type":"line","strokeWidth":1.4,"interpolate":"monotone"},
"encoding":{"x":{"field":"x","type":"quantitative","scale":{"domain":[0,200],"nice":false},"axis":{"title":"Specific capacity / mA h g⁻¹","values":[0,20,40,60,80,100,120,140,160,180,200],"labelFlush":false,"labelOverlap":false}},
"y":{"field":"y","type":"quantitative","scale":{"domain":[2,4.75],"nice":false,"zero":false},"axis":{"title":"Cell potential vs. (Li/Li⁺) / V","titleY":96,"values":[2,2.5,3,3.5,4,4.5],"format":".1f","labelFlush":false,"labelOverlap":false}},
"color":{"field":"r","type":"nominal","scale":{"domain":["0.05C","0.1C","0.2C","0.5C","1C","2C"],"range":["#1a1a1a","#ee1c1c","#6ad81a","#2b4fc4","#6ff0e0","#c64fe4"]},"legend":null},
"detail":{"field":"s"}}},
{"data":{"name":"arrowline"},"mark":{"type":"rule","color":"#111","strokeWidth":1.3},"encoding":{"x":{"field":"x","type":"quantitative","axis":{"orient":"bottom","values":[10,30,50,70,90,110,130,150,170,190],"labels":false,"title":null,"domain":false,"tickSize":2.5}},"x2":{"field":"x2"},"y":{"field":"y","type":"quantitative","axis":{"orient":"left","values":[2.25,2.75,3.25,3.75,4.25],"labels":false,"title":null,"domain":false,"tickSize":2.5}}}},
{"data":{"name":"chev"},"mark":{"type":"line","color":"#111","strokeWidth":1.1},"encoding":{"x":{"field":"x","type":"quantitative","axis":null},"y":{"field":"y","type":"quantitative","axis":null},"order":{"field":"i"}}},
{"data":{"name":"rates"},"mark":{"type":"text","color":"#1f2f8f","fontSize":11,"align":"center","baseline":"middle"},"encoding":{"x":{"field":"x","type":"quantitative","axis":null},"y":{"field":"y","type":"quantitative","axis":null},"text":{"field":"t"}}},
{"data":{"values":[{"t":"Random-prisms microspheres","x":3.5,"y":4.63}]},"mark":{"type":"text","color":"#111","fontSize":11,"align":"left","baseline":"middle"},"encoding":{"x":{"field":"x","type":"quantitative","axis":null},"y":{"field":"y","type":"quantitative","axis":null},"text":{"field":"t"}}},
{"data":{"values":[{"t":"(b)","x":-55,"y":4.75}]},"mark":{"type":"text","color":"#000","fontSize":30,"align":"left","baseline":"top"},"encoding":{"x":{"field":"x","type":"quantitative","axis":null},"y":{"field":"y","type":"quantitative","axis":null},"text":{"field":"t"}}}
]},
{"width":284,"height":212,"resolve":{"axis":{"x":"independent","y":"independent"}},
"layer":[
{"data":{"values":[{"x1":4.06,"x2":4.32,"y1":140,"y2":1780},{"x1":2.6,"x2":3.89,"y1":110,"y2":1110}]},"mark":{"type":"rect","filled":false,"stroke":"#3b5bdb","strokeDash":[4,3],"strokeWidth":1.2},"encoding":{"x":{"field":"x1","type":"quantitative","axis":null},"x2":{"field":"x2"},"y":{"field":"y1","type":"quantitative","axis":null},"y2":{"field":"y2"}}},
{"data":{"values":[{"x1":3.87,"x2":4.095,"y1":-160,"y2":-1875},{"x1":2.125,"x2":3.41,"y1":-610,"y2":-1700}]},"mark":{"type":"rect","filled":false,"stroke":"#66e6e6","strokeDash":[4,3],"strokeWidth":1.2},"encoding":{"x":{"field":"x1","type":"quantitative","axis":null},"x2":{"field":"x2"},"y":{"field":"y1","type":"quantitative","axis":null},"y2":{"field":"y2"}}},
{"data":{"name":"D"},"mark":{"type":"line","strokeWidth":1.4,"interpolate":"monotone"},
"encoding":{"x":{"field":"x","type":"quantitative","scale":{"domain":[2,4.73],"nice":false,"zero":false},"axis":{"title":"Cell voltage vs. (Li/Li⁺) / V","titleFontSize":17,"values":[2,2.5,3,3.5,4,4.5],"format":".1f","labelFlush":false,"labelOverlap":false}},
"y":{"field":"y","type":"quantitative","scale":{"domain":[-2000,2000],"nice":false},"axis":{"title":"dQ/dV (mA h g⁻¹ V⁻¹)","titleFontSize":19,"titlePadding":3,"values":[-2000,-1000,0,1000,2000],"labelExpr":"datum.value==0?'0':(datum.value/1000)+'k'","labelFlush":false,"labelOverlap":false}},
"color":{"field":"k","type":"nominal","scale":{"domain":["RP","RD","RW"],"range":["#1a1a1a","#ee1c1c","#66e01a"]},
"legend":{"orient":"top-left","offset":2,"title":null,"symbolType":"M-1,0H3","symbolSize":121,"symbolStrokeWidth":1.5,"labelFontSize":11,"labelOffset":15,"rowPadding":0,"padding":0,"labelExpr":"datum.label=='RP'?'Radial-prisms microspheres':datum.label=='RD'?'Random-prisms microspheres':'Radial-wedges microspheres'"}},
"detail":{"field":"s"}}},
{"data":{"values":[{"k":"RP","x":3.3,"y":1000,"y2":-160},{"k":"RD","x":3.375,"y":825,"y2":-340},{"k":"RW","x":3.46,"y":450,"y2":-520},{"k":"RP","x":2.93,"y":-1590,"y2":-120},{"k":"RD","x":2.875,"y":-1375,"y2":-310},{"k":"RW","x":2.51,"y":-1010,"y2":-480}]},"mark":{"type":"rule","strokeWidth":1,"opacity":0.7},"encoding":{"x":{"field":"x","type":"quantitative","axis":null},"y":{"field":"y","type":"quantitative","axis":null},"y2":{"field":"y2"},"color":{"field":"k","type":"nominal"}}},
{"data":{"values":[{"k":"RP","x":2.74,"x2":3.44,"y":-140},{"k":"RD","x":2.75,"x2":3.56,"y":-330},{"k":"RW","x":2.37,"x2":3.63,"y":-500}]},"mark":{"type":"rule","strokeWidth":1,"opacity":0.8},"encoding":{"x":{"field":"x","type":"quantitative","axis":null},"x2":{"field":"x2"},"y":{"field":"y","type":"quantitative","axis":null},"color":{"field":"k","type":"nominal"}}},
{"data":{"values":[{"k":"RP","d":"R","x":2.9,"y":-140},{"k":"RP","d":"L","x":3.33,"y":-140},{"k":"RD","d":"R","x":2.845,"y":-330},{"k":"RD","d":"L","x":3.405,"y":-330},{"k":"RW","d":"R","x":2.48,"y":-500},{"k":"RW","d":"L","x":3.49,"y":-500}]},"mark":{"type":"point","filled":true,"size":30,"opacity":1},"encoding":{"x":{"field":"x","type":"quantitative","axis":null},"y":{"field":"y","type":"quantitative","axis":null},"color":{"field":"k","type":"nominal"},"shape":{"field":"d","type":"nominal","scale":{"domain":["L","R"],"range":["triangle-left","triangle-right"]},"legend":null}}},
{"data":{"values":[{"t":"4.1853V","k":"RP","x":3.06,"y":1040},{"t":"4.1871V","k":"RD","x":3.59,"y":920},{"t":"4.2141V","k":"RW","x":3.77,"y":590},{"t":"136.1mV","k":"RP","x":2.53,"y":-130},{"t":"142.9mV","k":"RD","x":2.5,"y":-335},{"t":"242mV","k":"RW","x":2.185,"y":-500},{"t":"3.9721V","k":"RW","x":2.49,"y":-1170},{"t":"4.0442V","k":"RD","x":2.62,"y":-1390},{"t":"4.0492V","k":"RP","x":3.14,"y":-1560}]},"mark":{"type":"text","fontSize":11,"align":"center","baseline":"middle"},"encoding":{"x":{"field":"x","type":"quantitative","axis":null},"y":{"field":"y","type":"quantitative","axis":null},"color":{"field":"k","type":"nominal"},"text":{"field":"t"}}},
{"data":{"values":[{"x":3.9,"x2":4.06,"y":950}]},"mark":{"type":"rule","color":"#3b5bdb","strokeWidth":1.2},"encoding":{"x":{"field":"x","type":"quantitative","axis":{"orient":"bottom","values":[2.25,2.75,3.25,3.75,4.25],"labels":false,"title":null,"domain":false,"tickSize":2.5}},"x2":{"field":"x2"},"y":{"field":"y","type":"quantitative","axis":{"orient":"left","values":[-1500,-500,500,1500],"labels":false,"title":null,"domain":false,"tickSize":2.5}}}},
{"data":{"values":[{"i":0,"x":3.935,"y":1030},{"i":1,"x":3.9,"y":950},{"i":2,"x":3.935,"y":870}]},"mark":{"type":"line","color":"#3b5bdb","strokeWidth":1.2},"encoding":{"x":{"field":"x","type":"quantitative","axis":null},"y":{"field":"y","type":"quantitative","axis":null},"order":{"field":"i"}}},
{"data":{"values":[{"x":3.43,"x2":3.87,"y":-1110}]},"mark":{"type":"rule","color":"#66e6e6","strokeWidth":1.2},"encoding":{"x":{"field":"x","type":"quantitative","axis":null},"x2":{"field":"x2"},"y":{"field":"y","type":"quantitative","axis":null}}},
{"data":{"values":[{"i":0,"x":3.465,"y":-1030},{"i":1,"x":3.43,"y":-1110},{"i":2,"x":3.465,"y":-1190}]},"mark":{"type":"line","color":"#66e6e6","strokeWidth":1.2},"encoding":{"x":{"field":"x","type":"quantitative","axis":null},"y":{"field":"y","type":"quantitative","axis":null},"order":{"field":"i"}}},
{"data":{"values":[{"t":"(d)","x":1.25,"y":2190}]},"mark":{"type":"text","color":"#000","fontSize":30,"align":"left","baseline":"top"},"encoding":{"x":{"field":"x","type":"quantitative","axis":null},"y":{"field":"y","type":"quantitative","axis":null},"text":{"field":"t"}}}
]}
]}
],
"config":{
"font":"Liberation Sans",
"view":{"stroke":"#555","strokeWidth":1},
"axis":{"grid":false,"domainColor":"#000","tickColor":"#000","labelColor":"#000","titleColor":"#000","labelFontSize":13,"titleFontSize":16,"titleFontWeight":"normal","tickSize":4,"titlePadding":2,"labelOverlap":false,"labelFont":"Liberation Sans","titleFont":"Liberation Sans"},
"axisX":{"labelPadding":2},
"axisY":{"labelPadding":1},
"legend":{"labelFont":"Liberation Sans","labelColor":"#000"}
}
}
